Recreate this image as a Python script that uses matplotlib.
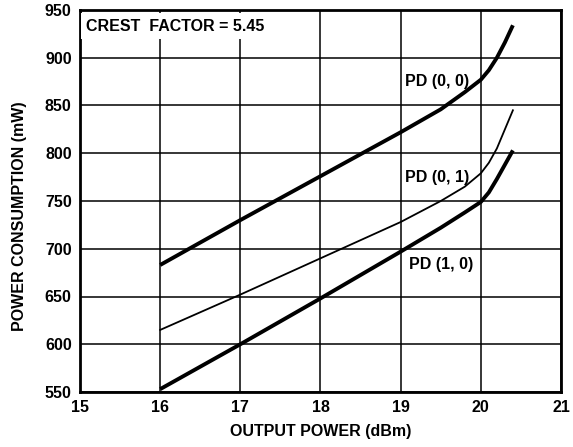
import matplotlib.pyplot as plt
import numpy as np

plt.rcParams['font.family'] = ['Liberation Sans', 'DejaVu Sans']
plt.rcParams['font.weight'] = 'bold'

# curve data
pd00_x = [16.0, 17.0, 18.0, 19.0, 19.5, 19.8, 20.0, 20.1, 20.2, 20.3, 20.4]
pd00_y = [683, 730, 776, 822, 846, 864, 877, 887, 900, 916, 934]

pd01_x = [16.0, 17.0, 18.0, 19.0, 19.5, 19.8, 20.0, 20.1, 20.2, 20.3, 20.4]
pd01_y = [615, 652, 690, 728, 750, 765, 779, 790, 805, 825, 845]

pd10_x = [16.0, 17.0, 18.0, 19.0, 19.5, 19.8, 20.0, 20.1, 20.2, 20.3, 20.4]
pd10_y = [553, 600, 648, 697, 722, 738, 749, 759, 773, 788, 803]

x_ticks = [15, 16, 17, 18, 19, 20, 21]
y_ticks = [550, 600, 650, 700, 750, 800, 850, 900, 950]

fs = 11.5

fig = plt.figure(figsize=(5.73, 4.47), dpi=100)
ax = fig.add_axes([80 / 573, 55 / 447, 481 / 573, 382 / 447])

ax.plot(pd00_x, pd00_y, color='black', lw=2.8, solid_capstyle='butt')
ax.plot(pd01_x, pd01_y, color='black', lw=1.3)
ax.plot(pd10_x, pd10_y, color='black', lw=2.8, solid_capstyle='butt')

ax.set_xlim(15, 21)
ax.set_ylim(550, 950)
ax.set_xticks(x_ticks)
ax.set_yticks(y_ticks)
ax.grid(True, color='black', lw=1.1)
ax.tick_params(length=0, labelsize=fs, pad=6)
for lab in ax.get_xticklabels() + ax.get_yticklabels():
    lab.set_fontweight('bold')
for s in ax.spines.values():
    s.set_linewidth(2)

ax.set_xlabel('OUTPUT POWER (dBm)', fontsize=fs, fontweight='bold', labelpad=6)
ax.set_ylabel('POWER CONSUMPTION (mW)', fontsize=fs, fontweight='bold')
ax.yaxis.set_label_coords(-0.11, 0.46)

ax.text(15.08, 933, 'CREST  FACTOR = 5.45', fontsize=fs, fontweight='bold',
        va='center', ha='left',
        bbox=dict(facecolor='white', edgecolor='none', pad=4))

ax.text(19.06, 875, 'PD (0, 0)', fontsize=fs, fontweight='bold', va='center', ha='left')
ax.text(19.06, 775, 'PD (0, 1)', fontsize=fs, fontweight='bold', va='center', ha='left')
ax.text(19.1, 683, 'PD (1, 0)', fontsize=fs, fontweight='bold', va='center', ha='left')

fig.savefig('out.png', dpi=100)
